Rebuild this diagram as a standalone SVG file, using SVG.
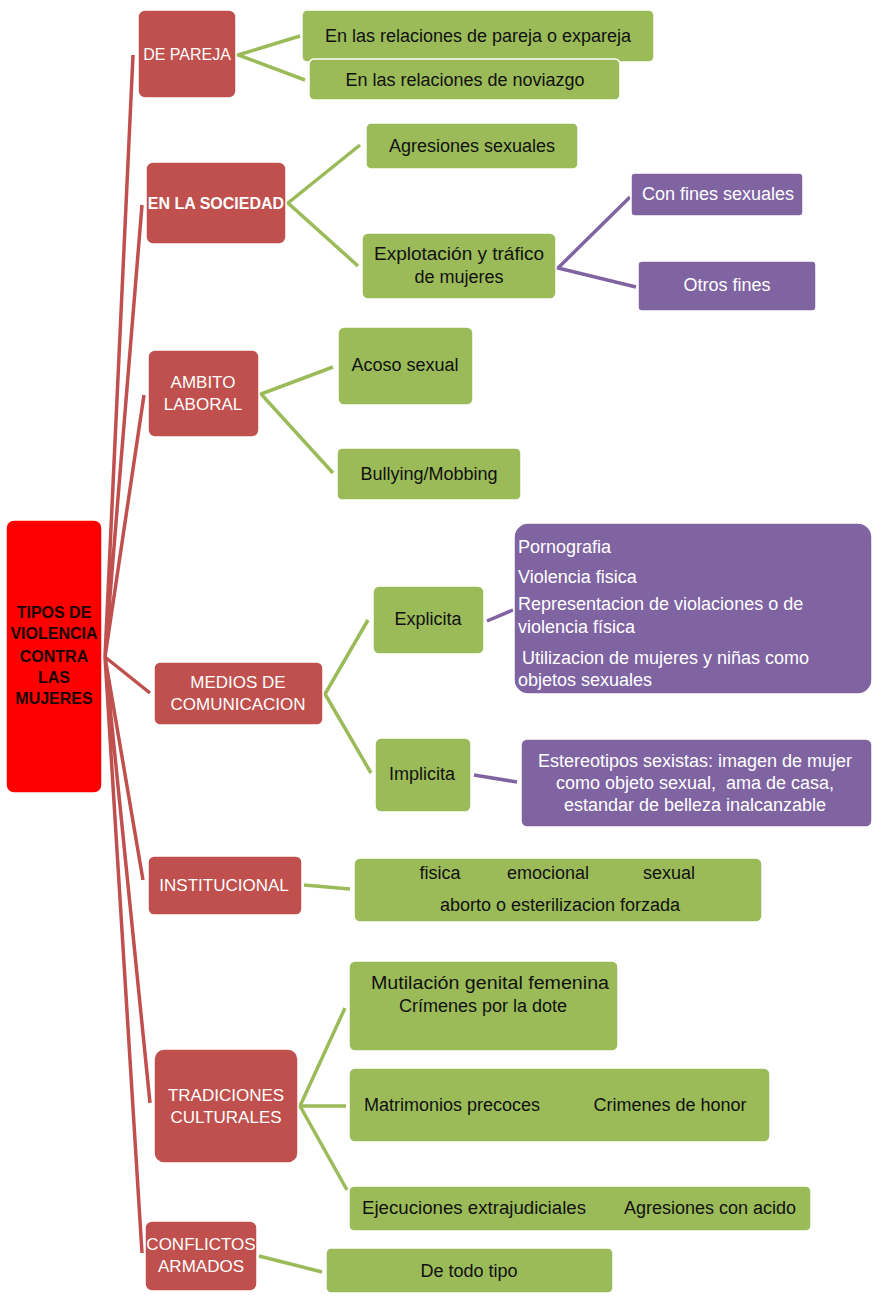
<svg xmlns="http://www.w3.org/2000/svg" width="882" height="1306" viewBox="0 0 882 1306">
<style>
.red{fill:#c0504d;stroke:#fff;stroke-width:1.5}
.grn{fill:#9bbb59;stroke:#fff;stroke-width:1.5}
.pur{fill:#8064a2;stroke:#fff;stroke-width:1.5}
.root{fill:#ff0000;stroke:#fff;stroke-width:1.5}
text{font-family:"Liberation Sans",Arial,sans-serif}
.wt{fill:#fff;font-size:17px;text-anchor:middle}
.wb{fill:#fff;font-size:16px;font-weight:bold;text-anchor:middle}
.bt{fill:#111;font-size:18px;text-anchor:middle}
.pt{fill:#fff;font-size:18px}
.pc{fill:#fff;font-size:18px;text-anchor:middle;white-space:pre}
.rt{fill:#1a0000;font-size:16px;font-weight:bold;text-anchor:middle}
.lr{stroke:#c0504d;stroke-width:3.5;fill:none}
.lg{stroke:#9bbb59;stroke-width:3.5;fill:none}
.lp{stroke:#8064a2;stroke-width:3.5;fill:none}
</style>
<rect width="882" height="1306" fill="#fff"/>
<g id="connectors">
<path class="lr" d="M105 657 L133 55 M105 657 L142 205 M105 657 L144 395 M105 657 L150 693 M105 657 L143 880 M105 657 L150 1103 M105 657 L142 1253"/>
<path class="lg" d="M300 36 L238 55 L305 80"/>
<path class="lg" d="M360 145 L288 203 L358 266"/>
<path class="lp" d="M630 197 L558 268 L636 287"/>
<path class="lg" d="M333 367 L261 394 L333 473"/>
<path class="lg" d="M368 620 L325 694 L371 773"/>
<path class="lp" d="M487 621 L513 610"/>
<path class="lp" d="M474 775 L517 782"/>
<path class="lg" d="M304 885 L350 889"/>
<path class="lg" d="M345 1008 L300 1106 L346 1106 M300 1106 L347 1190"/>
<path class="lg" d="M259 1256 L322 1272"/>
</g>
<g id="root">
<rect class="root" x="6" y="520" width="96" height="273" rx="8"/>
<text class="rt" x="54" y="618">TIPOS DE</text>
<text class="rt" x="54" y="639">VIOLENCIA</text>
<text class="rt" x="54" y="662">CONTRA</text>
<text class="rt" x="54" y="683">LAS</text>
<text class="rt" x="54" y="704">MUJERES</text>
</g>
<g id="de-pareja">
<rect class="red" x="138" y="10" width="98" height="88" rx="7"/>
<text class="wt" x="187" y="60" style="font-size:16px">DE PAREJA</text>
</g>
<g id="pareja-expareja">
<rect class="grn" x="302" y="10" width="352" height="52" rx="5"/>
<text class="bt" x="478" y="42">En las relaciones de pareja o expareja</text>
</g>
<g id="noviazgo">
<rect class="grn" x="309" y="59" width="311" height="41" rx="5"/>
<text class="bt" x="465" y="86">En las relaciones de noviazgo</text>
</g>
<g id="en-la-sociedad">
<rect class="red" x="146" y="162" width="140" height="82" rx="7"/>
<text class="wb" x="216" y="209">EN LA SOCIEDAD</text>
</g>
<g id="agresiones-sexuales">
<rect class="grn" x="366" y="123" width="212" height="46" rx="5"/>
<text class="bt" x="472" y="152">Agresiones sexuales</text>
</g>
<g id="explotacion">
<rect class="grn" x="362" y="233" width="194" height="66" rx="6"/>
<text class="bt" x="459" y="260" textLength="170" lengthAdjust="spacingAndGlyphs">Explotación y tráfico</text>
<text class="bt" x="459" y="283">de mujeres</text>
</g>
<g id="con-fines-sexuales">
<rect class="pur" x="631" y="173" width="172" height="43" rx="4"/>
<text class="pc" x="718" y="200">Con fines sexuales</text>
</g>
<g id="otros-fines">
<rect class="pur" x="638" y="261" width="178" height="50" rx="4"/>
<text class="pc" x="727" y="291">Otros fines</text>
</g>
<g id="ambito-laboral">
<rect class="red" x="148" y="350" width="111" height="87" rx="7"/>
<text class="wt" x="203" y="388">AMBITO</text>
<text class="wt" x="203" y="410">LABORAL</text>
</g>
<g id="acoso-sexual">
<rect class="grn" x="338" y="327" width="135" height="78" rx="6"/>
<text class="bt" x="405" y="371">Acoso sexual</text>
</g>
<g id="bullying">
<rect class="grn" x="337" y="448" width="184" height="52" rx="5"/>
<text class="bt" x="429" y="480">Bullying/Mobbing</text>
</g>
<g id="medios">
<rect class="red" x="154" y="662" width="169" height="63" rx="6"/>
<text class="wt" x="238" y="688">MEDIOS DE</text>
<text class="wt" x="238" y="710">COMUNICACION</text>
</g>
<g id="explicita">
<rect class="grn" x="373" y="586" width="111" height="68" rx="6"/>
<text class="bt" x="428" y="625">Explicita</text>
</g>
<g id="explicita-lista">
<rect class="pur" x="514" y="523" width="358" height="171" rx="14"/>
<text class="pt" x="518" y="553">Pornografia</text>
<text class="pt" x="518" y="583">Violencia fisica</text>
<text class="pt" x="518" y="610">Representacion de violaciones o de</text>
<text class="pt" x="518" y="633">violencia física</text>
<text class="pt" x="522" y="664">Utilizacion de mujeres y niñas como</text>
<text class="pt" x="518" y="686">objetos sexuales</text>
</g>
<g id="implicita">
<rect class="grn" x="375" y="738" width="96" height="74" rx="6"/>
<text class="bt" x="422" y="780">Implicita</text>
</g>
<g id="estereotipos">
<rect class="pur" x="521" y="739" width="351" height="88" rx="6"/>
<text class="pc" x="695" y="767">Estereotipos sexistas: imagen de mujer</text>
<text class="pc" x="695" y="789">como objeto sexual,  ama de casa,</text>
<text class="pc" x="695" y="811">estandar de belleza inalcanzable</text>
</g>
<g id="institucional">
<rect class="red" x="148" y="856" width="154" height="59" rx="6"/>
<text class="wt" x="224" y="891">INSTITUCIONAL</text>
</g>
<g id="institucional-tipos">
<rect class="grn" x="354" y="858" width="408" height="64" rx="6"/>
<text class="bt" x="440" y="879">fisica</text>
<text class="bt" x="548" y="879">emocional</text>
<text class="bt" x="669" y="879">sexual</text>
<text class="bt" x="560" y="911">aborto o esterilizacion forzada</text>
</g>
<g id="tradiciones">
<rect class="red" x="154" y="1049" width="144" height="114" rx="10"/>
<text class="wt" x="226" y="1101">TRADICIONES</text>
<text class="wt" x="226" y="1123">CULTURALES</text>
</g>
<g id="mutilacion">
<rect class="grn" x="349" y="961" width="269" height="90" rx="6"/>
<text class="bt" x="490" y="989" textLength="238" lengthAdjust="spacingAndGlyphs">Mutilación genital femenina</text>
<text class="bt" x="483" y="1012">Crímenes por la dote</text>
</g>
<g id="matrimonios">
<rect class="grn" x="349" y="1068" width="421" height="74" rx="6"/>
<text class="bt" x="452" y="1111">Matrimonios precoces</text>
<text class="bt" x="670" y="1111">Crimenes de honor</text>
</g>
<g id="ejecuciones">
<rect class="grn" x="349" y="1186" width="462" height="45" rx="5"/>
<text class="bt" x="474" y="1214" textLength="224" lengthAdjust="spacingAndGlyphs">Ejecuciones extrajudiciales</text>
<text class="bt" x="710" y="1214">Agresiones con acido</text>
</g>
<g id="conflictos">
<rect class="red" x="145" y="1221" width="112" height="70" rx="7"/>
<text class="wt" x="201" y="1250">CONFLICTOS</text>
<text class="wt" x="201" y="1272">ARMADOS</text>
</g>
<g id="de-todo-tipo">
<rect class="grn" x="326" y="1248" width="287" height="45" rx="5"/>
<text class="bt" x="469" y="1277">De todo tipo</text>
</g>
</svg>
